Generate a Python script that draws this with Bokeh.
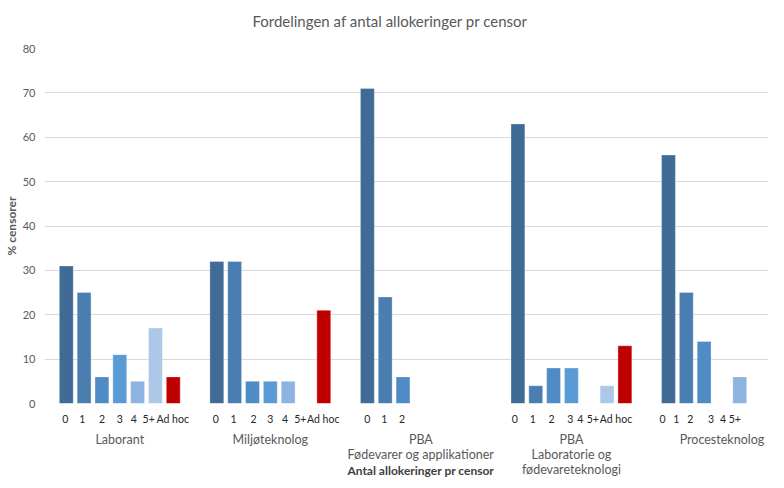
from bokeh.plotting import figure
from bokeh.models import (Range1d, FixedTicker, LinearAxis, CustomJSTickFormatter,
                          ColumnDataSource)
from bokeh.embed import file_html
from bokeh.resources import INLINE

# ---------------- data ----------------
title_text = "Fordelingen af antal allokeringer pr censor"
x_title_text = "Antal allokeringer pr censor"
y_title_text = "% censorer"

groups = ["Laborant", "Miljøteknolog", "PBA\nFødevarer og applikationer",
          "PBA\nLaboratorie og\nfødevareteknologi", "Procesteknolog"]
series_names = ["0", "1", "2", "3", "4", "5+", "Ad hoc"]

v_0 = [31, 32, 71, 63, 56]
v_1 = [25, 32, 24, 4, 25]
v_2 = [6, 5, 6, 8, 14]
v_3 = [11, 5, None, 8, None]
v_4 = [5, 5, None, None, 6]
v_5plus = [17, None, None, 4, None]
v_adhoc = [6, 21, None, 13, None]

# category labels written under each group
labels_laborant = ["0", "1", "2", "3", "4", "5+", "Ad hoc"]
labels_miljo = ["0", "1", "2", "3", "4", "5+", "Ad hoc"]
labels_pba_f = ["0", "1", "2"]
labels_pba_l = ["0", "1", "2", "3", "4", "5+", "Ad hoc"]
labels_proces = ["0", "1", "2", "3", "4", "5+"]

y_ticks = [0, 10, 20, 30, 40, 50, 60, 70, 80]

# ---------------- styling ----------------
series_colors = ["#3F6B96", "#4A7DB0", "#4F8CC5", "#5B9BD5", "#8DB3E0", "#ADC7E7", "#C00000"]
FONT = "Lato"
GREY = "#595959"

W, H = 768, 480
FRAME_LEFT = 37
FRAME_TOP = 48
FRAME_BOTTOM = 77
GROUP_PX = 152.0
slot_w = 18 / GROUP_PX
bar_w = 14 / GROUP_PX
Y_MAX = 80


def bare_axis(ax):
    ax.major_tick_out = 0
    ax.major_tick_in = 0
    ax.minor_tick_out = 0
    ax.minor_tick_in = 0
    ax.axis_line_color = None


all_values = [v_0, v_1, v_2, v_3, v_4, v_5plus, v_adhoc]
xs, tops, cols = [], [], []
for si, vals in enumerate(all_values):
    for gi, v in enumerate(vals):
        if v is None:
            continue
        xs.append(gi + (si - 3) * slot_w)
        tops.append(v)
        cols.append(series_colors[si])
src = ColumnDataSource(dict(x=xs, top=tops, color=cols))

p = figure(width=W, height=H, output_backend="svg", toolbar_location=None,
           x_range=Range1d(-0.5, -0.5 + (W - FRAME_LEFT) / GROUP_PX),
           y_range=Range1d(0, Y_MAX),
           min_border_left=FRAME_LEFT, min_border_right=0,
           min_border_top=FRAME_TOP, min_border_bottom=FRAME_BOTTOM)
p.outline_line_color = None
p.background_fill_color = "white"
p.border_fill_color = "white"

p.vbar(x="x", top="top", width=bar_w, bottom=0, fill_color="color",
       line_color="white", line_width=0.6, line_alpha=0.5, source=src)

ax1 = p.below[0]      # default bottom axis: series labels
ax_y = p.left[0]

# y axis
ax_y.ticker = FixedTicker(ticks=y_ticks)
ax_y.axis_label = y_title_text
ax_y.axis_label_text_font = FONT
ax_y.axis_label_text_font_size = "12px"
ax_y.axis_label_text_font_style = "bold"
ax_y.axis_label_text_color = GREY
ax_y.axis_label_standoff = 1
ax_y.major_label_text_font = FONT
ax_y.major_label_text_font_size = "11px"
ax_y.major_label_text_color = GREY
ax_y.major_label_standoff = 9
bare_axis(ax_y)

p.ygrid.grid_line_color = "#D9D9D9"
p.ygrid.ticker = FixedTicker(ticks=y_ticks)
p.xgrid.grid_line_color = None

# x axis 1: series labels written under each group (hand-placed in the original)
label_offsets = [
    [-3.06, -2.1, -1.0, 0.0, 0.78, 1.62, 2.97],
    [-3.06, -2.06, -0.94, 0.0, 0.83, 1.68, 2.97],
    [-3.0, -2.05, -1.05],
    [-3.17, -2.17, -1.11, -0.06, 0.5, 1.2, 2.5],
    [-3.33, -2.56, -1.78, -0.61, 0.06, 0.72],
]
label_sets = [labels_laborant, labels_miljo, labels_pba_f, labels_pba_l, labels_proces]
locs, texts = [], []
for gi, labs in enumerate(label_sets):
    for li, lab in enumerate(labs):
        locs.append(gi + label_offsets[gi][li] * slot_w)
        texts.append(lab)

ax1.ticker = FixedTicker(ticks=locs)
ax1.formatter = CustomJSTickFormatter(args=dict(locs=locs, labels=texts), code="""
    let best = -1, bd = 1e9;
    for (let i = 0; i < locs.length; i++) {
        const d = Math.abs(locs[i] - tick);
        if (d < bd) { bd = d; best = i; }
    }
    return (best >= 0 && bd < 1e-6) ? labels[best] : "";
""")
ax1.major_label_text_font = FONT
ax1.major_label_text_font_size = "10.5px"
ax1.major_label_text_color = "#262626"
ax1.major_label_standoff = 9
bare_axis(ax1)

# x axis 2: group names
ax2 = LinearAxis(ticker=FixedTicker(ticks=list(range(len(groups)))))
ax2.formatter = CustomJSTickFormatter(args=dict(labels=groups), code="""
    const i = Math.round(tick);
    return (i >= 0 && i < labels.length) ? labels[i] : "";
""")
ax2.major_label_text_font = FONT
ax2.major_label_text_font_size = "12.5px"
ax2.major_label_text_line_height = 1.0
ax2.major_label_text_color = GREY
ax2.major_label_standoff = 4
bare_axis(ax2)
p.add_layout(ax2, "below")

# x axis title, centred under the five groups
ax3 = LinearAxis(ticker=FixedTicker(ticks=[(len(groups) - 1) / 2.0]))
ax3.formatter = CustomJSTickFormatter(args=dict(t=x_title_text), code="return t;")
ax3.major_label_text_font = FONT
ax3.major_label_text_font_size = "12px"
ax3.major_label_text_font_style = "bold"
ax3.major_label_text_color = "#404040"
ax3.major_label_standoff = -17
bare_axis(ax3)
p.add_layout(ax3, "below")

# chart title, centred over the whole chart (the single label of a bare top axis)
title_x = -0.5 + (394 - 8 - FRAME_LEFT) / GROUP_PX
ax_top = LinearAxis(ticker=FixedTicker(ticks=[title_x]))
ax_top.formatter = CustomJSTickFormatter(args=dict(t=title_text), code="return t;")
ax_top.major_label_text_font = FONT
ax_top.major_label_text_font_size = "15px"
ax_top.major_label_text_color = GREY
ax_top.major_label_standoff = 19
bare_axis(ax_top)
p.add_layout(ax_top, "above")

open("out.html", "w").write(file_html(p, INLINE))
